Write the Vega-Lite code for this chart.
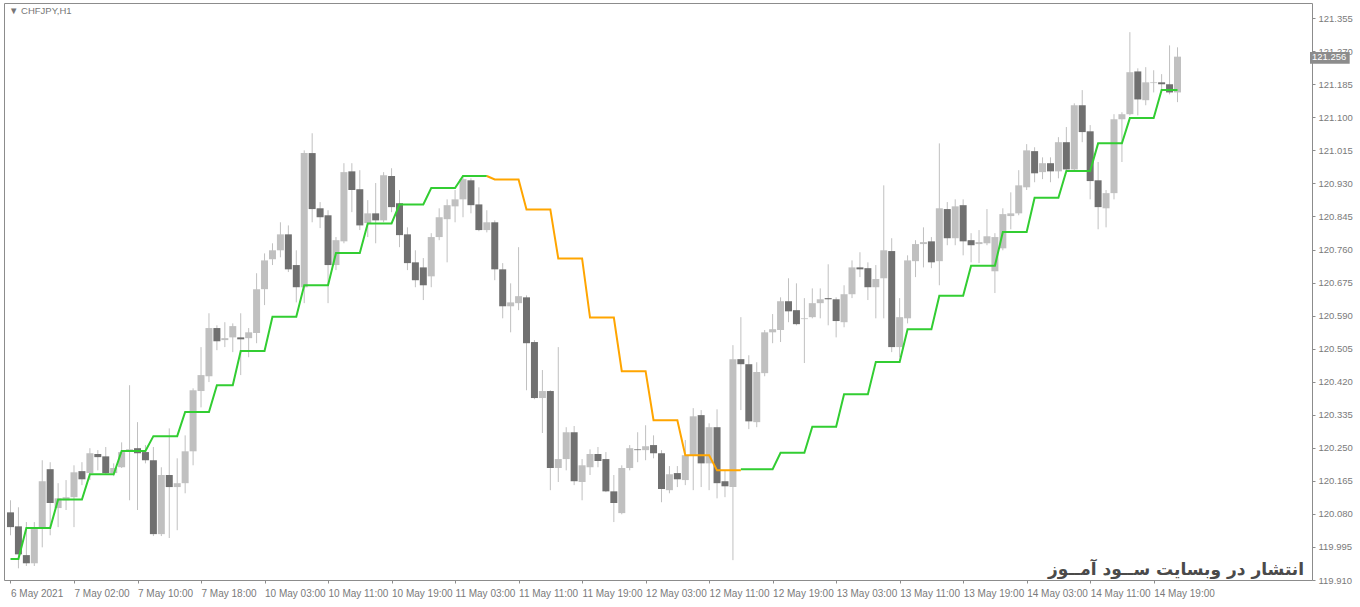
{
"$schema": "https://vega.github.io/schema/vega-lite/v6.json",
"width": 1308, "height": 577,
"autosize": {"type": "none"},
"padding": {"left": 4, "top": 3, "right": 48, "bottom": 27},
"background": "white",
"config": {"view": {"stroke": "#8c8c8c", "strokeWidth": 1}, "axis": {"labelFont": "Liberation Sans", "labelColor": "#7a7a7a", "tickColor": "#8c8c8c", "domain": false, "grid": false, "labelOverlap": false, "labelFlush": false, "labelBound": false}},
"datasets": {
"candles": [
{"i":0,"o":120.084,"h":120.115,"l":120.025,"c":120.046},
{"i":1,"o":120.048,"h":120.097,"l":119.940,"c":119.976},
{"i":2,"o":119.974,"h":120.059,"l":119.946,"c":119.953},
{"i":3,"o":119.953,"h":120.059,"l":119.946,"c":120.041},
{"i":4,"o":120.046,"h":120.218,"l":119.994,"c":120.164},
{"i":5,"o":120.195,"h":120.213,"l":120.025,"c":120.108},
{"i":6,"o":120.095,"h":120.159,"l":120.046,"c":120.120},
{"i":7,"o":120.115,"h":120.167,"l":120.090,"c":120.123},
{"i":8,"o":120.123,"h":120.205,"l":120.046,"c":120.187},
{"i":9,"o":120.190,"h":120.213,"l":120.154,"c":120.169},
{"i":10,"o":120.185,"h":120.249,"l":120.167,"c":120.236},
{"i":11,"o":120.234,"h":120.244,"l":120.192,"c":120.226},
{"i":12,"o":120.228,"h":120.252,"l":120.180,"c":120.185},
{"i":13,"o":120.185,"h":120.210,"l":120.177,"c":120.198},
{"i":14,"o":120.200,"h":120.264,"l":120.198,"c":120.239},
{"i":15,"o":120.241,"h":120.411,"l":120.115,"c":120.246},
{"i":16,"o":120.249,"h":120.316,"l":120.090,"c":120.236},
{"i":17,"o":120.239,"h":120.257,"l":120.210,"c":120.218},
{"i":18,"o":120.218,"h":120.252,"l":120.023,"c":120.028},
{"i":19,"o":120.028,"h":120.200,"l":120.023,"c":120.180},
{"i":20,"o":120.180,"h":120.300,"l":120.018,"c":120.149},
{"i":21,"o":120.149,"h":120.223,"l":120.038,"c":120.159},
{"i":22,"o":120.159,"h":120.282,"l":120.133,"c":120.241},
{"i":23,"o":120.241,"h":120.403,"l":120.205,"c":120.398},
{"i":24,"o":120.396,"h":120.509,"l":120.354,"c":120.437},
{"i":25,"o":120.434,"h":120.596,"l":120.419,"c":120.558},
{"i":26,"o":120.558,"h":120.565,"l":120.501,"c":120.524},
{"i":27,"o":120.527,"h":120.573,"l":120.509,"c":120.532},
{"i":28,"o":120.534,"h":120.570,"l":120.496,"c":120.563},
{"i":29,"o":120.534,"h":120.596,"l":120.437,"c":120.529},
{"i":30,"o":120.532,"h":120.558,"l":120.483,"c":120.547},
{"i":31,"o":120.545,"h":120.699,"l":120.519,"c":120.658},
{"i":32,"o":120.658,"h":120.750,"l":120.617,"c":120.732},
{"i":33,"o":120.735,"h":120.776,"l":120.720,"c":120.758},
{"i":34,"o":120.758,"h":120.830,"l":120.740,"c":120.799},
{"i":35,"o":120.799,"h":120.822,"l":120.702,"c":120.709},
{"i":36,"o":120.720,"h":120.758,"l":120.624,"c":120.663},
{"i":37,"o":120.663,"h":121.015,"l":120.622,"c":121.008},
{"i":38,"o":121.008,"h":121.059,"l":120.830,"c":120.864},
{"i":39,"o":120.866,"h":120.882,"l":120.815,"c":120.843},
{"i":40,"o":120.848,"h":120.861,"l":120.622,"c":120.720},
{"i":41,"o":120.720,"h":120.792,"l":120.707,"c":120.784},
{"i":42,"o":120.781,"h":120.982,"l":120.776,"c":120.959},
{"i":43,"o":120.961,"h":120.982,"l":120.856,"c":120.913},
{"i":44,"o":120.915,"h":120.964,"l":120.810,"c":120.822},
{"i":45,"o":120.828,"h":120.887,"l":120.792,"c":120.853},
{"i":46,"o":120.853,"h":120.931,"l":120.776,"c":120.835},
{"i":47,"o":120.835,"h":120.959,"l":120.830,"c":120.951},
{"i":48,"o":120.949,"h":120.969,"l":120.856,"c":120.869},
{"i":49,"o":120.879,"h":120.913,"l":120.766,"c":120.797},
{"i":50,"o":120.799,"h":120.817,"l":120.707,"c":120.725},
{"i":51,"o":120.727,"h":120.758,"l":120.663,"c":120.681},
{"i":52,"o":120.714,"h":120.738,"l":120.630,"c":120.668},
{"i":53,"o":120.691,"h":120.802,"l":120.663,"c":120.792},
{"i":54,"o":120.792,"h":120.866,"l":120.784,"c":120.843},
{"i":55,"o":120.838,"h":120.889,"l":120.727,"c":120.874},
{"i":56,"o":120.871,"h":120.913,"l":120.830,"c":120.889},
{"i":57,"o":120.889,"h":120.946,"l":120.843,"c":120.941},
{"i":58,"o":120.938,"h":120.943,"l":120.853,"c":120.874},
{"i":59,"o":120.876,"h":120.920,"l":120.807,"c":120.810},
{"i":60,"o":120.810,"h":120.861,"l":120.804,"c":120.830},
{"i":61,"o":120.830,"h":120.835,"l":120.681,"c":120.709},
{"i":62,"o":120.709,"h":120.725,"l":120.583,"c":120.614},
{"i":63,"o":120.614,"h":120.673,"l":120.547,"c":120.624},
{"i":64,"o":120.622,"h":120.766,"l":120.604,"c":120.640},
{"i":65,"o":120.637,"h":120.642,"l":120.398,"c":120.519},
{"i":66,"o":120.522,"h":120.527,"l":120.375,"c":120.378},
{"i":67,"o":120.378,"h":120.450,"l":120.288,"c":120.396},
{"i":68,"o":120.396,"h":120.398,"l":120.141,"c":120.198},
{"i":69,"o":120.198,"h":120.509,"l":120.162,"c":120.221},
{"i":70,"o":120.221,"h":120.303,"l":120.192,"c":120.290},
{"i":71,"o":120.290,"h":120.306,"l":120.154,"c":120.164},
{"i":72,"o":120.162,"h":120.221,"l":120.115,"c":120.205},
{"i":73,"o":120.200,"h":120.246,"l":120.180,"c":120.234},
{"i":74,"o":120.234,"h":120.252,"l":120.200,"c":120.216},
{"i":75,"o":120.221,"h":120.239,"l":120.136,"c":120.138},
{"i":76,"o":120.138,"h":120.180,"l":120.059,"c":120.108},
{"i":77,"o":120.082,"h":120.205,"l":120.079,"c":120.198},
{"i":78,"o":120.198,"h":120.257,"l":120.192,"c":120.249},
{"i":79,"o":120.246,"h":120.290,"l":120.213,"c":120.244},
{"i":80,"o":120.244,"h":120.308,"l":120.218,"c":120.254},
{"i":81,"o":120.257,"h":120.282,"l":120.223,"c":120.236},
{"i":82,"o":120.236,"h":120.244,"l":120.110,"c":120.144},
{"i":83,"o":120.141,"h":120.203,"l":120.133,"c":120.182},
{"i":84,"o":120.185,"h":120.203,"l":120.149,"c":120.169},
{"i":85,"o":120.167,"h":120.270,"l":120.154,"c":120.231},
{"i":86,"o":120.231,"h":120.352,"l":120.141,"c":120.331},
{"i":87,"o":120.334,"h":120.347,"l":120.149,"c":120.210},
{"i":88,"o":120.210,"h":120.313,"l":120.141,"c":120.303},
{"i":89,"o":120.303,"h":120.349,"l":120.120,"c":120.159},
{"i":90,"o":120.164,"h":120.192,"l":120.123,"c":120.151},
{"i":91,"o":120.149,"h":120.514,"l":119.961,"c":120.478},
{"i":92,"o":120.478,"h":120.586,"l":120.347,"c":120.465},
{"i":93,"o":120.465,"h":120.488,"l":120.298,"c":120.318},
{"i":94,"o":120.316,"h":120.470,"l":120.303,"c":120.445},
{"i":95,"o":120.442,"h":120.553,"l":120.434,"c":120.547},
{"i":96,"o":120.547,"h":120.594,"l":120.519,"c":120.555},
{"i":97,"o":120.553,"h":120.637,"l":120.522,"c":120.627},
{"i":98,"o":120.627,"h":120.686,"l":120.573,"c":120.601},
{"i":99,"o":120.604,"h":120.673,"l":120.565,"c":120.568},
{"i":100,"o":120.581,"h":120.635,"l":120.468,"c":120.583},
{"i":101,"o":120.586,"h":120.660,"l":120.583,"c":120.622},
{"i":102,"o":120.622,"h":120.660,"l":120.583,"c":120.632},
{"i":103,"o":120.635,"h":120.722,"l":120.565,"c":120.632},
{"i":104,"o":120.632,"h":120.637,"l":120.534,"c":120.576},
{"i":105,"o":120.573,"h":120.668,"l":120.560,"c":120.645},
{"i":106,"o":120.645,"h":120.732,"l":120.635,"c":120.714},
{"i":107,"o":120.714,"h":120.753,"l":120.689,"c":120.709},
{"i":108,"o":120.712,"h":120.727,"l":120.630,"c":120.663},
{"i":109,"o":120.663,"h":120.720,"l":120.583,"c":120.684},
{"i":110,"o":120.686,"h":120.925,"l":120.583,"c":120.758},
{"i":111,"o":120.756,"h":120.789,"l":120.496,"c":120.509},
{"i":112,"o":120.509,"h":120.635,"l":120.483,"c":120.586},
{"i":113,"o":120.583,"h":120.745,"l":120.570,"c":120.732},
{"i":114,"o":120.730,"h":120.784,"l":120.689,"c":120.774},
{"i":115,"o":120.774,"h":120.817,"l":120.714,"c":120.779},
{"i":116,"o":120.781,"h":120.792,"l":120.712,"c":120.727},
{"i":117,"o":120.730,"h":121.033,"l":120.668,"c":120.866},
{"i":118,"o":120.864,"h":120.882,"l":120.771,"c":120.789},
{"i":119,"o":120.789,"h":120.889,"l":120.771,"c":120.871},
{"i":120,"o":120.874,"h":120.889,"l":120.745,"c":120.781},
{"i":121,"o":120.784,"h":120.802,"l":120.727,"c":120.771},
{"i":122,"o":120.774,"h":120.810,"l":120.725,"c":120.779},
{"i":123,"o":120.776,"h":120.864,"l":120.771,"c":120.794},
{"i":124,"o":120.704,"h":120.802,"l":120.648,"c":120.792},
{"i":125,"o":120.763,"h":120.866,"l":120.758,"c":120.851},
{"i":126,"o":120.846,"h":120.907,"l":120.812,"c":120.853},
{"i":127,"o":120.853,"h":120.964,"l":120.848,"c":120.925},
{"i":128,"o":120.920,"h":121.031,"l":120.913,"c":121.015},
{"i":129,"o":121.013,"h":121.023,"l":120.933,"c":120.956},
{"i":130,"o":120.959,"h":120.997,"l":120.941,"c":120.982},
{"i":131,"o":120.982,"h":120.997,"l":120.933,"c":120.961},
{"i":132,"o":120.961,"h":121.049,"l":120.943,"c":121.036},
{"i":133,"o":121.036,"h":121.075,"l":120.964,"c":120.966},
{"i":134,"o":120.966,"h":121.136,"l":120.964,"c":121.131},
{"i":135,"o":121.131,"h":121.170,"l":121.036,"c":121.062},
{"i":136,"o":121.064,"h":121.080,"l":120.889,"c":120.936},
{"i":137,"o":120.938,"h":120.985,"l":120.812,"c":120.869},
{"i":138,"o":120.866,"h":120.913,"l":120.817,"c":120.905},
{"i":139,"o":120.905,"h":121.108,"l":120.889,"c":121.095},
{"i":140,"o":121.095,"h":121.113,"l":120.985,"c":121.108},
{"i":141,"o":121.108,"h":121.319,"l":121.105,"c":121.216},
{"i":142,"o":121.218,"h":121.226,"l":121.105,"c":121.146},
{"i":143,"o":121.144,"h":121.229,"l":121.131,"c":121.190},
{"i":144,"o":121.188,"h":121.221,"l":121.164,"c":121.190},
{"i":145,"o":121.190,"h":121.211,"l":121.164,"c":121.185},
{"i":146,"o":121.185,"h":121.285,"l":121.159,"c":121.164},
{"i":147,"o":121.164,"h":121.280,"l":121.139,"c":121.256}
],
"ind": [
{"i":0,"v":119.964,"s":"up1"},{"i":1,"v":119.964,"s":"up1"},
{"i":2,"v":120.044,"s":"up1"},{"i":3,"v":120.044,"s":"up1"},{"i":4,"v":120.044,"s":"up1"},{"i":5,"v":120.044,"s":"up1"},
{"i":6,"v":120.117,"s":"up1"},{"i":7,"v":120.117,"s":"up1"},{"i":8,"v":120.117,"s":"up1"},{"i":9,"v":120.117,"s":"up1"},
{"i":10,"v":120.182,"s":"up1"},{"i":11,"v":120.182,"s":"up1"},{"i":12,"v":120.182,"s":"up1"},{"i":13,"v":120.182,"s":"up1"},
{"i":14,"v":120.242,"s":"up1"},{"i":15,"v":120.242,"s":"up1"},{"i":16,"v":120.242,"s":"up1"},{"i":17,"v":120.242,"s":"up1"},
{"i":18,"v":120.280,"s":"up1"},{"i":19,"v":120.280,"s":"up1"},{"i":20,"v":120.280,"s":"up1"},{"i":21,"v":120.280,"s":"up1"},
{"i":22,"v":120.342,"s":"up1"},{"i":23,"v":120.342,"s":"up1"},{"i":24,"v":120.342,"s":"up1"},{"i":25,"v":120.342,"s":"up1"},
{"i":26,"v":120.411,"s":"up1"},{"i":27,"v":120.411,"s":"up1"},{"i":28,"v":120.411,"s":"up1"},
{"i":29,"v":120.499,"s":"up1"},{"i":30,"v":120.499,"s":"up1"},{"i":31,"v":120.499,"s":"up1"},{"i":32,"v":120.499,"s":"up1"},
{"i":33,"v":120.587,"s":"up1"},{"i":34,"v":120.587,"s":"up1"},{"i":35,"v":120.587,"s":"up1"},{"i":36,"v":120.587,"s":"up1"},
{"i":37,"v":120.668,"s":"up1"},{"i":38,"v":120.668,"s":"up1"},{"i":39,"v":120.668,"s":"up1"},{"i":40,"v":120.668,"s":"up1"},
{"i":41,"v":120.751,"s":"up1"},{"i":42,"v":120.751,"s":"up1"},{"i":43,"v":120.751,"s":"up1"},{"i":44,"v":120.751,"s":"up1"},
{"i":45,"v":120.827,"s":"up1"},{"i":46,"v":120.827,"s":"up1"},{"i":47,"v":120.827,"s":"up1"},{"i":48,"v":120.827,"s":"up1"},
{"i":49,"v":120.876,"s":"up1"},{"i":50,"v":120.876,"s":"up1"},{"i":51,"v":120.876,"s":"up1"},{"i":52,"v":120.876,"s":"up1"},
{"i":53,"v":120.918,"s":"up1"},{"i":54,"v":120.918,"s":"up1"},{"i":55,"v":120.918,"s":"up1"},{"i":56,"v":120.918,"s":"up1"},
{"i":57,"v":120.949,"s":"up1"},{"i":58,"v":120.949,"s":"up1"},{"i":59,"v":120.949,"s":"up1"},{"i":60,"v":120.949,"s":"up1"},
{"i":60,"v":120.949,"s":"dn"},
{"i":61,"v":120.940,"s":"dn"},{"i":62,"v":120.940,"s":"dn"},{"i":63,"v":120.940,"s":"dn"},{"i":64,"v":120.940,"s":"dn"},
{"i":65,"v":120.863,"s":"dn"},{"i":66,"v":120.863,"s":"dn"},{"i":67,"v":120.863,"s":"dn"},{"i":68,"v":120.863,"s":"dn"},
{"i":69,"v":120.737,"s":"dn"},{"i":70,"v":120.737,"s":"dn"},{"i":71,"v":120.737,"s":"dn"},{"i":72,"v":120.737,"s":"dn"},
{"i":73,"v":120.585,"s":"dn"},{"i":74,"v":120.585,"s":"dn"},{"i":75,"v":120.585,"s":"dn"},{"i":76,"v":120.585,"s":"dn"},
{"i":77,"v":120.447,"s":"dn"},{"i":78,"v":120.447,"s":"dn"},{"i":79,"v":120.447,"s":"dn"},{"i":80,"v":120.447,"s":"dn"},
{"i":81,"v":120.321,"s":"dn"},{"i":82,"v":120.321,"s":"dn"},{"i":83,"v":120.321,"s":"dn"},{"i":84,"v":120.321,"s":"dn"},
{"i":85,"v":120.231,"s":"dn"},{"i":86,"v":120.231,"s":"dn"},{"i":87,"v":120.231,"s":"dn"},{"i":88,"v":120.231,"s":"dn"},
{"i":89,"v":120.192,"s":"dn"},{"i":90,"v":120.192,"s":"dn"},{"i":91,"v":120.192,"s":"dn"},{"i":92,"v":120.192,"s":"dn"},
{"i":92,"v":120.195,"s":"up2"},{"i":93,"v":120.195,"s":"up2"},{"i":94,"v":120.195,"s":"up2"},{"i":95,"v":120.195,"s":"up2"},{"i":96,"v":120.195,"s":"up2"},
{"i":97,"v":120.237,"s":"up2"},{"i":98,"v":120.237,"s":"up2"},{"i":99,"v":120.237,"s":"up2"},{"i":100,"v":120.237,"s":"up2"},
{"i":101,"v":120.304,"s":"up2"},{"i":102,"v":120.304,"s":"up2"},{"i":103,"v":120.304,"s":"up2"},{"i":104,"v":120.304,"s":"up2"},
{"i":105,"v":120.388,"s":"up2"},{"i":106,"v":120.388,"s":"up2"},{"i":107,"v":120.388,"s":"up2"},{"i":108,"v":120.388,"s":"up2"},
{"i":109,"v":120.471,"s":"up2"},{"i":110,"v":120.471,"s":"up2"},{"i":111,"v":120.471,"s":"up2"},{"i":112,"v":120.471,"s":"up2"},
{"i":113,"v":120.555,"s":"up2"},{"i":114,"v":120.555,"s":"up2"},{"i":115,"v":120.555,"s":"up2"},{"i":116,"v":120.555,"s":"up2"},
{"i":117,"v":120.641,"s":"up2"},{"i":118,"v":120.641,"s":"up2"},{"i":119,"v":120.641,"s":"up2"},{"i":120,"v":120.641,"s":"up2"},
{"i":121,"v":120.718,"s":"up2"},{"i":122,"v":120.718,"s":"up2"},{"i":123,"v":120.718,"s":"up2"},{"i":124,"v":120.718,"s":"up2"},
{"i":125,"v":120.805,"s":"up2"},{"i":126,"v":120.805,"s":"up2"},{"i":127,"v":120.805,"s":"up2"},{"i":128,"v":120.805,"s":"up2"},
{"i":129,"v":120.893,"s":"up2"},{"i":130,"v":120.893,"s":"up2"},{"i":131,"v":120.893,"s":"up2"},{"i":132,"v":120.893,"s":"up2"},
{"i":133,"v":120.962,"s":"up2"},{"i":134,"v":120.962,"s":"up2"},{"i":135,"v":120.962,"s":"up2"},{"i":136,"v":120.962,"s":"up2"},
{"i":137,"v":121.033,"s":"up2"},{"i":138,"v":121.033,"s":"up2"},{"i":139,"v":121.033,"s":"up2"},{"i":140,"v":121.033,"s":"up2"},
{"i":141,"v":121.098,"s":"up2"},{"i":142,"v":121.098,"s":"up2"},{"i":143,"v":121.098,"s":"up2"},{"i":144,"v":121.098,"s":"up2"},
{"i":145,"v":121.170,"s":"up2"},{"i":146,"v":121.170,"s":"up2"},{"i":147,"v":121.170,"s":"up2"}
]
},
"layer": [
{"data": {"name": "candles"},
 "mark": {"type": "rule", "color": "#c0c0c0", "strokeWidth": 1},
 "encoding": {
  "x": {"field": "i", "type": "quantitative", "title": null, "scale": {"domain": [-0.1875, 163.3125], "nice": false, "zero": false},
        "axis": {"orient": "bottom", "values": [0,8,16,24,32,40,48,56,64,72,80,88,96,104,112,120,128,136,144],
                 "labelExpr": "['6 May 2021','7 May 02:00','7 May 10:00','7 May 18:00','10 May 03:00','10 May 11:00','10 May 19:00','11 May 03:00','11 May 11:00','11 May 19:00','12 May 03:00','12 May 11:00','12 May 19:00','13 May 03:00','13 May 11:00','13 May 19:00','14 May 03:00','14 May 11:00','14 May 19:00'][round(datum.value/8)]",
                 "labelAlign": "left", "labelFontSize": 10, "tickSize": 3, "labelPadding": 5, "labelOverlap": false}},
  "y": {"field": "l", "type": "quantitative", "title": null, "scale": {"domain": [119.91, 121.394], "nice": false, "zero": false},
        "axis": {"orient": "right", "values": [119.91,119.995,120.08,120.165,120.25,120.335,120.42,120.505,120.59,120.675,120.76,120.845,120.93,121.015,121.1,121.185,121.27,121.355],
                 "format": ".3f", "labelFontSize": 9.5, "tickSize": 3, "labelPadding": 3, "labelOverlap": false, "tickCount": 18}},
  "y2": {"field": "h"}
 }},
{"data": {"name": "candles"},
 "mark": {"type": "bar", "size": 7},
 "encoding": {
  "x": {"field": "i", "type": "quantitative", "title": null, "scale": {"domain": [-0.1875, 163.3125], "nice": false, "zero": false}},
  "y": {"field": "o", "type": "quantitative", "title": null, "scale": {"domain": [119.91, 121.394], "nice": false, "zero": false}},
  "y2": {"field": "c"},
  "color": {"condition": {"test": "datum.c >= datum.o", "value": "#c0c0c0"}, "value": "#707070"}
 }},
{"data": {"name": "ind"},
 "mark": {"type": "line", "strokeWidth": 2},
 "encoding": {
  "x": {"field": "i", "type": "quantitative", "title": null, "scale": {"domain": [-0.1875, 163.3125], "nice": false, "zero": false}},
  "y": {"field": "v", "type": "quantitative", "title": null, "scale": {"domain": [119.91, 121.394], "nice": false, "zero": false}},
  "color": {"field": "s", "type": "nominal", "scale": {"domain": ["up1", "dn", "up2"], "range": ["#32cd32", "#ffa500", "#32cd32"]}, "legend": null}
 }},
{"data": {"values": [{}]},
 "mark": {"type": "rect", "color": "#8c8c8c"},
 "encoding": {
  "x": {"datum": 163.69, "type": "quantitative"}, "x2": {"datum": 168.69},
  "y": {"datum": 121.268, "type": "quantitative"}, "y2": {"datum": 121.238}
 }},
{"data": {"values": [{}]},
 "mark": {"type": "text", "text": "121.256", "align": "left", "baseline": "middle", "font": "Liberation Sans", "fontSize": 9.5, "color": "#ffffff"},
 "encoding": {
  "x": {"datum": 163.94, "type": "quantitative"},
  "y": {"datum": 121.254, "type": "quantitative"}
 }},
{"data": {"values": [{}]},
 "mark": {"type": "text", "text": "▼ CHFJPY,H1", "align": "left", "baseline": "middle", "font": "Liberation Sans", "fontSize": 9.5, "color": "#777777"},
 "encoding": {
  "x": {"datum": -0.19, "type": "quantitative"},
  "y": {"datum": 121.373, "type": "quantitative"}
 }},
{"data": {"values": [{}]},
 "mark": {"type": "text", "text": "انتشار در وبسایت ســود آمــوز", "align": "right", "baseline": "middle", "font": "DejaVu Sans", "fontSize": 17, "fontWeight": "bold", "color": "#4a4a4a"},
 "encoding": {
  "x": {"datum": 162.94, "type": "quantitative"},
  "y": {"datum": 119.935, "type": "quantitative"}
 }}
]
}
